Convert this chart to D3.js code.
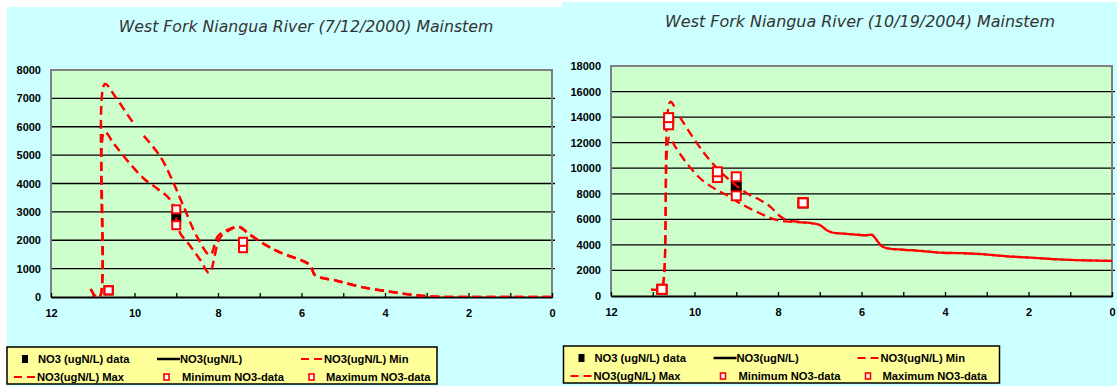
<!DOCTYPE html>
<html><head><meta charset="utf-8">
<script src="https://cdn.jsdelivr.net/npm/d3@7"></script>
<style>body{margin:0;background:#fff}svg{display:block}</style>
</head><body><svg id="c" width="1117" height="386"></svg>
<script>
// ---------- data ----------
const xMinorTicks = [12,11,10,9,8,7,6,5,4,3,2,1,0];
const xLabelTicks = [12,10,8,6,4,2,0];
const yTicksA = [0,1000,2000,3000,4000,5000,6000,7000,8000];
const yTicksB = [0,2000,4000,6000,8000,10000,12000,14000,16000,18000];
const titleA = "West Fork Niangua River (7/12/2000) Mainstem";
const titleB = "West Fork Niangua River (10/19/2004) Mainstem";
const legendLabels = ["NO3 (ugN/L) data","NO3(ugN/L)","NO3(ugN/L) Min","NO3(ugN/L) Max","Minimum NO3-data","Maximum NO3-data"];

// Chart A (7/12/2000)
const minDistA = [11.05,10.92,10.83,10.72,10.5,10.18,9.78,9.46,9.14,8.9,8.74,8.42,8.21,7.95,7.7,7.5,7.25,6.82,6.5,5.8,5.68,5.16,4.52,3.88,3.32,2.76,2,1,0];
const minValA  = [280,0,0,5824,5412,4824,4176,3824,3412,2235,1941,1294,850,2100,2380,2480,2200,1800,1560,1128,775,575,340,188,70,10,0,0,0];
const maxDistA = [11.05,10.92,10.83,10.71,10.46,10.02,9.38,9.06,8.82,8.5,8.19,8.0,7.75,7.5,7.25,6.82,6.5,5.8,5.68,5.16,4.52,3.88,3.32,2.76,2,1,0];
const maxValA  = [280,0,0,7506,7060,6118,4941,4000,3176,2118,1480,2150,2380,2470,2220,1800,1560,1128,775,575,340,188,70,10,0,0,0];
const sampleDistA = [10.62,9.0,7.4];
const dataValA    = [235,2800,1830];
const minDataA    = [235,2530,1720];
const maxDataA    = [235,3090,1945];

// Chart B (10/19/2004)
const minDistB = [11.04,10.85,10.78,10.6,10.46,10.18,9.86,9.46,9.22,8.9,8.42,8.02,7.62,7.15,6.99,6.83,6.7,6.3,5.88,5.75,5.48,5.0,4.76,4.12,3.32,2.52,1.96,1.17,0];
const minValB  = [500,500,600,12400,11677,10371,9195,8281,7889,7236,6452,5930,5800,5669,5538,5146,4970,4850,4754,4780,3840,3620,3579,3396,3318,3109,3004,2847,2743];
const maxDistB = [11.04,10.85,10.78,10.58,10.38,10.02,9.7,9.38,9.06,8.74,8.42,8.18,7.98,7.78,7.46,7.15,6.99,6.83,6.7,6.3,5.88,5.75,5.48,5.0,4.76,4.12,3.32,2.52,1.96,1.17,0];
const maxValB  = [500,500,600,15200,14159,12330,10893,9718,8804,8020,7497,6975,6322,5930,5800,5669,5538,5146,4970,4850,4754,4780,3840,3620,3579,3396,3318,3109,3004,2847,2743];
const sampleDistB = [10.78,10.62,9.45,9.0,7.4];
const dataValB    = [520,13700,9500,8620,7290];
const minDataB    = [520,13400,9270,7840,7290];
const maxDataB    = [520,13960,9720,9330,7290];

// ---------- drawing ----------
const svg = d3.select("#c");
const RED = "#ff0000";

function zip(xs, ys){ return xs.map((x,i)=>({x:x, y:ys[i]})); }

function lengthToX(node, targetX){
  const total = node.getTotalLength();
  let lo = 0, hi = total;
  for (let i=0;i<40;i++){
    const mid = (lo+hi)/2;
    if (node.getPointAtLength(mid).x < targetX) lo = mid; else hi = mid;
  }
  return hi;
}

function drawChart(cfg){
  const g = svg.append("g");
  g.append("rect").attr("x",cfg.panel[0]).attr("y",cfg.panel[1]).attr("width",cfg.panel[2]).attr("height",cfg.panel[3]).attr("fill","#ccffff");
  const x = d3.scaleLinear().domain([12,0]).range([cfg.left,cfg.right]);
  const y = d3.scaleLinear().domain([0,cfg.yMax]).range([cfg.bottom,cfg.top]);

  const t = g.append("text").attr("x",cfg.titleX).attr("y",cfg.titleY).attr("text-anchor","middle")
    .attr("font-family","DejaVu Sans, Verdana, sans-serif").attr("font-style","italic")
    .attr("font-size",13.5).attr("fill","#333").text(cfg.title);
  const w = t.node().getComputedTextLength();
  if (w > 0) t.attr("font-size", 13.5*cfg.titleW/w);

  g.append("rect").attr("x",cfg.left).attr("y",cfg.top).attr("width",cfg.right-cfg.left).attr("height",cfg.bottom-cfg.top).attr("fill","#ccffcc");

  g.append("g").selectAll("line").data(cfg.yTicks.filter(v=>v>0 && v<cfg.yMax)).join("line")
    .attr("x1",cfg.left).attr("x2",cfg.right+3).attr("y1",d=>y(d)).attr("y2",d=>y(d))
    .attr("stroke","#000").attr("stroke-width",1.3);
  g.append("path").attr("d",`M${cfg.left},${cfg.bottom}V${cfg.top}H${cfg.right}V${cfg.bottom}`)
    .attr("fill","none").attr("stroke","#808080").attr("stroke-width",2);

  const ya = d3.axisLeft(y).tickValues(cfg.yTicks).tickSize(0).tickPadding(10).tickFormat(d3.format("d"));
  const yg = g.append("g").attr("transform",`translate(${cfg.left},0)`).call(ya);
  yg.select(".domain").remove();
  yg.selectAll("text").attr("font-family","Liberation Sans, Arial, sans-serif").attr("font-weight","bold").attr("font-size",11).attr("fill","#000");

  const xa = d3.axisBottom(x).tickValues(xMinorTicks).tickSize(0).tickFormat(d=>xLabelTicks.includes(d)?d:"").tickPadding(12);
  const xg = g.append("g").attr("transform",`translate(0,${cfg.bottom})`).call(xa);
  xg.select(".domain").attr("stroke","#000").attr("stroke-width",2);
  xg.selectAll("text").attr("font-family","Liberation Sans, Arial, sans-serif").attr("font-weight","bold").attr("font-size",11).attr("fill","#000");
  xg.selectAll(".tick").append("line").attr("y1",-4).attr("y2",1).attr("stroke","#000").attr("stroke-width",1.3);

  const cid = "clip"+cfg.id;
  svg.append("clipPath").attr("id",cid).append("rect").attr("x",cfg.left).attr("y",cfg.top-20).attr("width",cfg.right-cfg.left).attr("height",cfg.bottom-cfg.top+20);

  const sz = cfg.sq;
  g.append("g").selectAll("rect").data(zip(cfg.sampleDist,cfg.dataVal)).join("rect")
    .attr("x",d=>x(d.x)-sz/2).attr("y",d=>y(d.y)-sz/2).attr("width",sz).attr("height",sz).attr("fill","#000");

  const line = d3.line().x(d=>x(d.x)).y(d=>y(d.y)).curve(d3.curveCatmullRom.alpha(0.5));
  const pMin = g.append("path").attr("clip-path",`url(#${cid})`).attr("d",line(zip(cfg.minDist,cfg.minVal)))
    .attr("fill","none").attr("stroke",RED).attr("stroke-width",cfg.lw).attr("stroke-dasharray",`${cfg.dash[0]},${cfg.dash[1]}`);
  const pMax = g.append("path").attr("clip-path",`url(#${cid})`).attr("d",line(zip(cfg.maxDist,cfg.maxVal)))
    .attr("fill","none").attr("stroke",RED).attr("stroke-width",cfg.lw);

  const per = cfg.dash[0]+cfg.dash[1];
  const Lm = lengthToX(pMin.node(), x(cfg.mergeDist));
  const LM = lengthToX(pMax.node(), x(cfg.mergeDist));
  const delta = (((LM - Lm - cfg.tailPhase) % per) + per) % per;
  const total = pMax.node().getTotalLength();
  const k = Math.max(1, Math.floor(cfg.splitLen/per));
  const pattern = [];
  for (let i=0;i<k;i++) pattern.push(cfg.dash[0], cfg.dash[1]);
  pattern[pattern.length-1] += delta;
  let acc = k*per + delta;
  while (acc < total + per){ pattern.push(cfg.dash[0], cfg.dash[1]); acc += per; }
  pMax.attr("stroke-dasharray", pattern.join(","));

  [cfg.minData, cfg.maxData].forEach(vals=>{
    g.append("g").selectAll("rect").data(zip(cfg.sampleDist,vals)).join("rect")
      .attr("x",d=>x(d.x)-sz/2+1).attr("y",d=>y(d.y)-sz/2+1).attr("width",sz-2).attr("height",sz-2)
      .attr("fill","#fff").attr("stroke",RED).attr("stroke-width",2);
  });

  const L = g.append("g").attr("transform",`translate(${cfg.legX},${cfg.legY})`);
  L.append("rect").attr("x",0).attr("y",0).attr("width",cfg.legW).attr("height",37).attr("fill","#ffff99").attr("stroke","#000").attr("stroke-width",1.5);
  const r1 = 12, r2 = 30;
  const tx = (xx,yy,t)=>L.append("text").attr("x",xx).attr("y",yy+4).attr("font-family","Liberation Sans, Arial, sans-serif")
      .attr("font-weight","bold").attr("font-size",11.2).attr("fill","#000").text(t);
  L.append("rect").attr("x",15).attr("y",r1-4).attr("width",6).attr("height",8).attr("fill","#000");
  tx(31,r1,legendLabels[0]);
  L.append("line").attr("x1",150).attr("x2",173).attr("y1",r1).attr("y2",r1).attr("stroke","#000").attr("stroke-width",2.5);
  tx(173,r1,legendLabels[1]);
  L.append("line").attr("x1",294).attr("x2",317).attr("y1",r1).attr("y2",r1).attr("stroke",RED).attr("stroke-width",2).attr("stroke-dasharray","8,5");
  tx(317,r1,legendLabels[2]);
  L.append("line").attr("x1",7).attr("x2",30).attr("y1",r2).attr("y2",r2).attr("stroke",RED).attr("stroke-width",2).attr("stroke-dasharray","8,5");
  tx(30,r2,legendLabels[3]);
  L.append("rect").attr("x",157).attr("y",r2-3).attr("width",5).attr("height",6).attr("fill","#fff").attr("stroke",RED).attr("stroke-width",1.6);
  tx(175,r2,legendLabels[4]);
  L.append("rect").attr("x",302).attr("y",r2-3).attr("width",5).attr("height",6).attr("fill","#fff").attr("stroke",RED).attr("stroke-width",1.6);
  tx(319,r2,legendLabels[5]);
}

drawChart({id:"A", panel:[7,7,555,379], left:51, right:552, top:70, bottom:297, yMax:8000, yTicks:yTicksA,
  title:titleA, titleX:306, titleY:32, titleW:375, minDist:minDistA, minVal:minValA, maxDist:maxDistA, maxVal:maxValA,
  sampleDist:sampleDistA, dataVal:dataValA, minData:minDataA, maxData:maxDataA, sq:10, lw:2.5, dash:[9,5],
  mergeDist:6.82, tailPhase:0, splitLen:290,
  legX:7, legY:347, legW:430});
drawChart({id:"B", panel:[562,2,555,384], left:611, right:1112, top:66, bottom:296, yMax:18000, yTicks:yTicksB,
  title:titleB, titleX:860, titleY:27, titleW:390, minDist:minDistB, minVal:minValB, maxDist:maxDistB, maxVal:maxValB,
  sampleDist:sampleDistB, dataVal:dataValB, minData:minDataB, maxData:maxDataB, sq:11, lw:2.3, dash:[9,5],
  mergeDist:7.15, tailPhase:7, splitLen:210,
  legX:563.5, legY:346, legW:436});
</script></body></html>
